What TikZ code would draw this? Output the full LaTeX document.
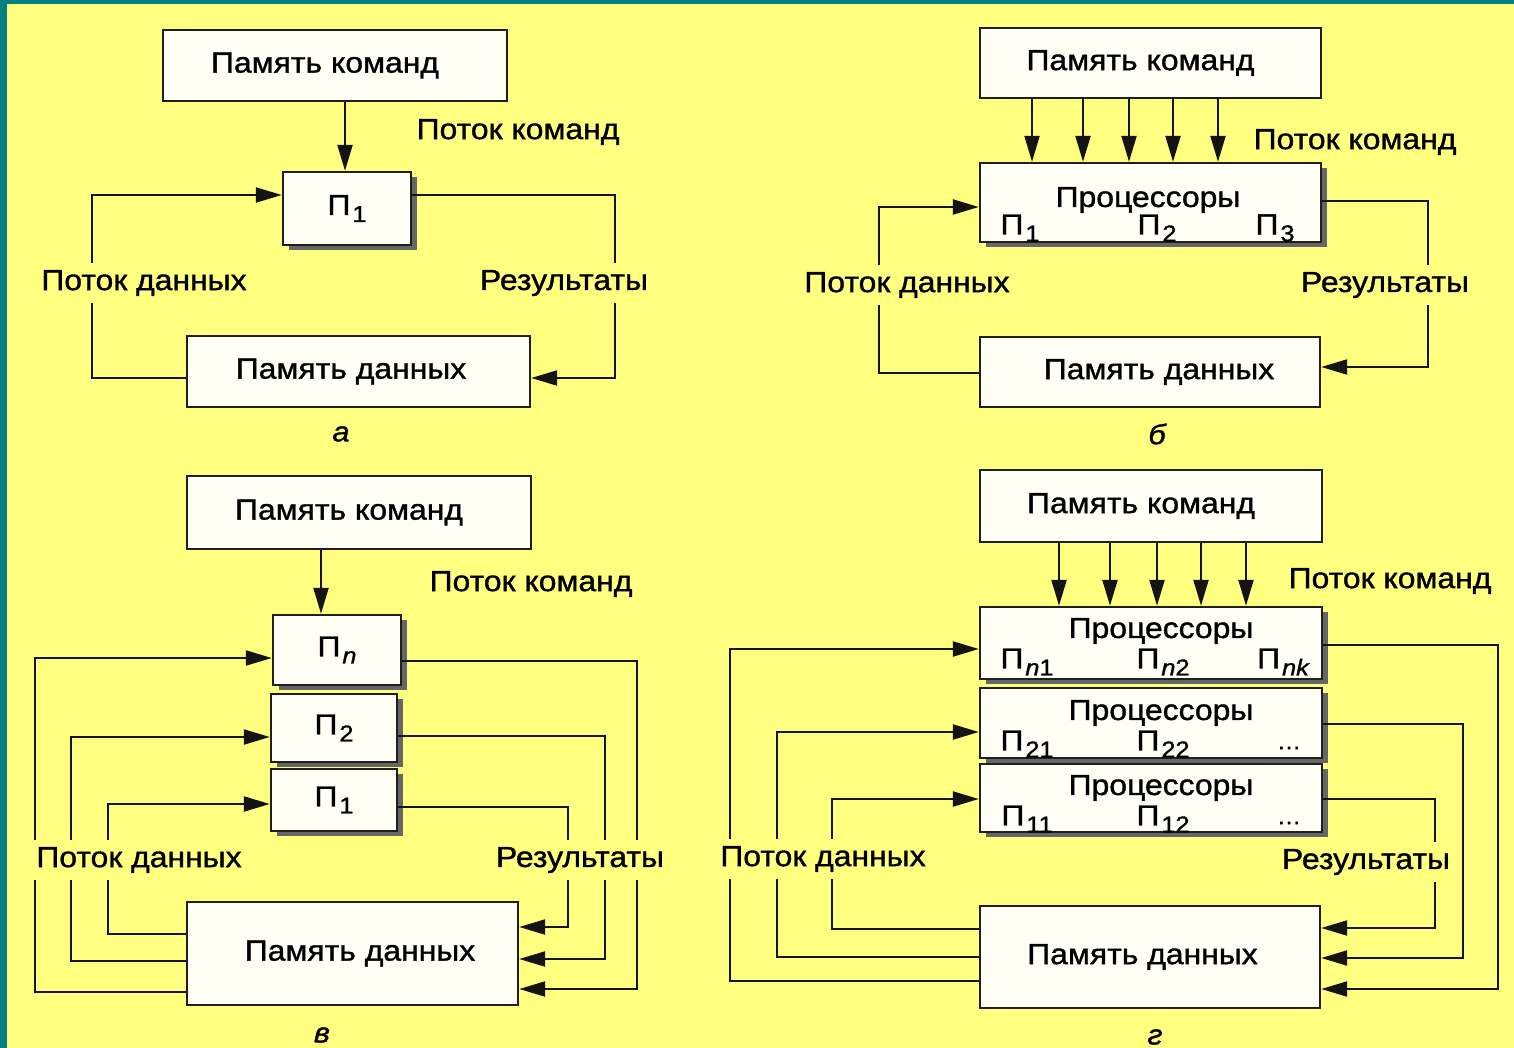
\documentclass[tikz,border=0pt]{standalone}
\usepackage{fontspec}
\setmainfont{Liberation Sans}[FakeStretch=1.1,FakeBold=1.2]
\usetikzlibrary{arrows.meta,shadows}
\definecolor{bgy}{HTML}{FFFF80}
\definecolor{tealb}{HTML}{008080}
\definecolor{boxw}{HTML}{FFFFF6}
\newcommand\ix[1]{\kern2pt\raisebox{-7pt}{\fontsize{23}{23}\selectfont #1}}
\begin{document}
\begin{tikzpicture}[x=1pt,y=-1pt,
 box/.style={draw=black!88, line width=2.4pt, fill=boxw, inner sep=0pt, font=\fontsize{29}{34}\selectfont},
 shbox/.style={box, drop shadow={shadow xshift=6pt, shadow yshift=-5pt, fill=black!60, opacity=1}},
 ln/.style={line width=2.2pt, draw=black!92},
 arr/.style={ln, -{Triangle[length=26pt,width=15pt]}},
 txt/.style={inner sep=0pt, font=\fontsize{29}{34}\selectfont},
 lbl/.style={fill=bgy, inner xsep=2pt, inner ysep=7pt, font=\fontsize{29}{34}\selectfont},
 capt/.style={inner sep=0pt, font=\fontsize{28}{30}\selectfont\itshape}]
\useasboundingbox (0,0) rectangle (1514,1048);
\fill[tealb] (0,0) rectangle (1514,1048);
\fill[bgy] (7,4) rectangle (1514,1048);

% ---------------- panel a ----------------
\node[box, minimum width=344pt, minimum height=71pt] (ka) at (335,65.5) {\hspace*{-20pt}Память команд};
\node[shbox, minimum width=128pt, minimum height=73pt] (pa) at (347,208.5) {П\ix{1}};
\node[box, minimum width=343pt, minimum height=71pt] (da) at (358.5,371.5) {\hspace*{-15pt}Память данных};
\draw[arr] (345,0 |- ka.south) -- (345,0 |- pa.north);
\draw[arr] (da.west |- 0,378) -- (92,378) -- (92,195) -- (pa.west |- 0,195);
\draw[arr] (pa.east |- 0,195) -- (615,195) -- (615,378) -- (da.east |- 0,378);
\node[txt] (fka) at (518,132) {Поток команд};
\node[lbl] (fda) at (144,283) {Поток данных};
\node[lbl] (ra) at (564,283) {Результаты};
\node[capt] (ca) at (341,434) {а};

% ---------------- panel b ----------------
\node[box, minimum width=341pt, minimum height=70pt] (kb) at (1150.5,63) {\hspace*{-20pt}Память команд};
\node[shbox, minimum width=341pt, minimum height=79pt] (pb) at (1150.5,202.5) {};
\node[box, minimum width=340pt, minimum height=70pt] (db) at (1150,372) {\hspace*{18pt}Память данных};
\foreach \xx in {1032,1083,1129,1173,1218}
  \draw[arr] (\xx,0 |- kb.south) -- (\xx,0 |- pb.north);
\node[txt] (prb) at (1148,200) {Процессоры};
\node[txt] (pb1) at (1020,228) {П\ix{1}};
\node[txt] (pb2) at (1157,228) {П\ix{2}};
\node[txt] (pb3) at (1275,228) {П\ix{3}};
\draw[arr] (db.west |- 0,373) -- (879,373) -- (879,207) -- (pb.west |- 0,207);
\draw[arr] (pb.east |- 0,201) -- (1428,201) -- (1428,367) -- (db.east |- 0,367);
\node[txt] (fkb) at (1355,142) {Поток команд};
\node[lbl] (fdb) at (907,285) {Поток данных};
\node[lbl] (rb) at (1385,285) {Результаты};
\node[capt] (cb) at (1157,434) {б};

% ---------------- panel v ----------------
\node[box, minimum width=344pt, minimum height=73pt] (kv) at (359,512.5) {\hspace*{-20pt}Память команд};
\node[shbox, minimum width=128pt, minimum height=70pt] (pvn) at (337,650) {П\ix{\itshape n}};
\node[shbox, minimum width=126pt, minimum height=68pt] (pv2) at (334,728) {П\ix{2}};
\node[shbox, minimum width=126pt, minimum height=62pt] (pv1) at (334,800) {П\ix{1}};
\node[box, minimum width=331pt, minimum height=103pt] (dv) at (352.5,953.5) {\hspace*{15pt}Память данных};
\draw[arr] (321,0 |- kv.south) -- (321,0 |- pvn.north);
\draw[arr] (dv.west |- 0,992) -- (35,992) -- (35,658) -- (pvn.west |- 0,658);
\draw[arr] (dv.west |- 0,961) -- (71,961) -- (71,737) -- (pv2.west |- 0,737);
\draw[arr] (dv.west |- 0,934) -- (108,934) -- (108,804) -- (pv1.west |- 0,804);
\draw[arr] (pvn.east |- 0,661) -- (637,661) -- (637,989) -- (dv.east |- 0,989);
\draw[arr] (pv2.east |- 0,736) -- (605,736) -- (605,959) -- (dv.east |- 0,959);
\draw[arr] (pv1.east |- 0,807) -- (568,807) -- (568,927) -- (dv.east |- 0,927);
\node[txt] (fkv) at (531,584) {Поток команд};
\node[lbl] (fdv) at (139,860) {Поток данных};
\node[lbl] (rv) at (580,860) {Результаты};
\node[capt] (cv) at (322,1035) {в};

% ---------------- panel g ----------------
\node[box, minimum width=342pt, minimum height=72pt] (kg) at (1151,506) {\hspace*{-20pt}Память команд};
\node[shbox, minimum width=342pt, minimum height=72pt] (pg3) at (1151,643) {};
\node[shbox, minimum width=342pt, minimum height=70pt] (pg2) at (1151,723) {};
\node[shbox, minimum width=342pt, minimum height=68pt] (pg1) at (1151,798) {};
\node[box, minimum width=340pt, minimum height=102pt] (dg) at (1150,957) {\hspace*{-15pt}Память данных};
\foreach \xx in {1059,1110,1157,1201,1246}
  \draw[arr] (\xx,0 |- kg.south) -- (\xx,0 |- pg3.north);
\node[txt] (prg3) at (1161,631) {Процессоры};
\node[txt] (g31) at (1027,662) {П\ix{\itshape n\upshape 1}};
\node[txt] (g32) at (1163,662) {П\ix{\itshape n\upshape 2}};
\node[txt] (g3k) at (1283,662) {П\ix{\itshape nk}};
\node[txt] (prg2) at (1161,713) {Процессоры};
\node[txt] (g21) at (1027,744) {П\ix{21}};
\node[txt] (g22) at (1163,744) {П\ix{22}};
\node[txt] (g2d) at (1289,748) {\fontsize{22}{22}\selectfont\ldots};
\node[txt] (prg1) at (1161,788) {Процессоры};
\node[txt] (g11) at (1027,819) {П\ix{11}};
\node[txt] (g12) at (1163,819) {П\ix{12}};
\node[txt] (g1d) at (1289,823) {\fontsize{22}{22}\selectfont\ldots};
\draw[arr] (dg.west |- 0,981) -- (730,981) -- (730,649) -- (pg3.west |- 0,649);
\draw[arr] (dg.west |- 0,957) -- (777,957) -- (777,732) -- (pg2.west |- 0,732);
\draw[arr] (dg.west |- 0,929) -- (832,929) -- (832,799) -- (pg1.west |- 0,799);
\draw[arr] (pg3.east |- 0,645) -- (1498,645) -- (1498,989) -- (dg.east |- 0,989);
\draw[arr] (pg2.east |- 0,724) -- (1463,724) -- (1463,958) -- (dg.east |- 0,958);
\draw[arr] (pg1.east |- 0,799) -- (1435,799) -- (1435,928) -- (dg.east |- 0,928);
\node[txt] (fkg) at (1390,581) {Поток команд};
\node[lbl] (fdg) at (823,859) {Поток данных};
\node[lbl] (rg) at (1366,862) {Результаты};
\node[capt] (cg) at (1155,1037) {г};
\end{tikzpicture}
\end{document}
